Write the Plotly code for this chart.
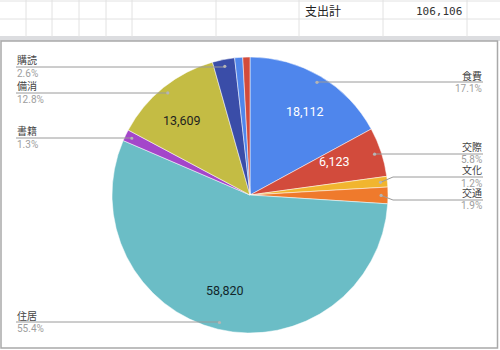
import math
import plotly.graph_objects as go

# ---- data ----
categories = ["食費", "交際", "文化", "交通", "住居", "書籍", "備消", "購読", "その他A", "その他B"]
values = [18112, 6123, 1316, 2058, 58820, 1422, 13609, 2760, 1000, 886]
colors = ["#4F86EC", "#D24B3C", "#F1B52F", "#EF7A2C", "#6BBDC6", "#A446CA",
          "#C4BC44", "#3A4DA8", "#4F86EC", "#D24B3C"]
value_label_cats = ["食費", "交際", "備消", "住居"]
value_label_colors = {"食費": "white", "交際": "white", "備消": "#1f1f1f", "住居": "#12262a"}
total_label = "支出計"
total_value = 106106

# label layout (side, y of leader line in px)
label_layout = {
    "食費": ("right", 82), "交際": ("right", 154), "文化": ("right", 177), "交通": ("right", 200),
    "購読": ("left", 67), "備消": ("left", 93), "書籍": ("left", 138), "住居": ("left", 322),
}

W, H = 500, 350
CX, CY, R = 250, 195, 138
FONT = "Roboto, 'Noto Sans CJK JP', sans-serif"


def px(x):
    return x / W


def py(y):
    return 1 - y / H


shapes = []
annotations = []

# ---- spreadsheet grid at top ----
for y in [1, 19]:
    shapes.append(dict(type="line", xref="paper", yref="paper", x0=0, x1=1, y0=py(y), y1=py(y),
                       line=dict(color="#e2e2e2", width=1)))
for x in [26, 52, 79, 106, 132, 216, 299, 383, 467]:
    shapes.append(dict(type="line", xref="paper", yref="paper", x0=px(x), x1=px(x), y0=py(0), y1=py(37),
                       line=dict(color="#e2e2e2", width=1)))
shapes.append(dict(type="rect", xref="paper", yref="paper", x0=0, x1=1, y0=py(41), y1=py(36),
                   fillcolor="#dcdde0", line=dict(width=0), layer="below"))
# chart panel
shapes.append(dict(type="rect", xref="paper", yref="paper", x0=px(1), x1=px(497.5), y0=py(348), y1=py(41),
                   fillcolor="white", line=dict(color="#a9a9a9", width=1.5), layer="below"))

annotations.append(dict(text=total_label, x=px(303), y=py(12), xref="paper", yref="paper",
                        xanchor="left", yanchor="middle", showarrow=False,
                        font=dict(family=FONT, size=12, color="#222")))
annotations.append(dict(text=f"{total_value:,}", x=px(464), y=py(12), xref="paper", yref="paper",
                        xanchor="right", yanchor="middle", showarrow=False,
                        font=dict(family="'DejaVu Sans Mono', monospace", size=11, color="#333")))

# ---- pie ----
tot = sum(values)
pie = go.Pie(labels=categories, values=values, sort=False, direction="clockwise", rotation=0,
             marker=dict(colors=colors, line=dict(color="white", width=0.5)),
             textinfo="none", showlegend=False, hoverinfo="label+value+percent",
             domain=dict(x=[px(CX - R), px(CX + R)], y=[py(CY + R), py(CY - R)]))

cum = 0
for cat, v in zip(categories, values):
    mid = (cum + v / 2) / tot
    cum += v
    th = 2 * math.pi * mid
    if cat in value_label_cats:
        r = 0.78 * R
        annotations.append(dict(text=f"{v:,}", x=px(CX + r * math.sin(th)), y=py(CY - r * math.cos(th)),
                                xref="paper", yref="paper", showarrow=False,
                                font=dict(family=FONT, size=12.5, color=value_label_colors[cat])))
    if cat in label_layout:
        side, ly = label_layout[cat]
        r = 0.95 * R
        dx, dy = CX + r * math.sin(th), CY - r * math.cos(th)
        pct = f"{100 * v / tot:.1f}%"
        if side == "right":
            kx, ex = max(dx + 10, 393) if abs(dy - ly) > 2 else dx, 483
            anchor = "right"
        else:
            kx, ex = (dx - 10) if abs(dy - ly) > 2 else dx, 16
            anchor = "left"
        path = f"M {px(dx)},{py(dy)} L {px(kx)},{py(ly)} L {px(ex)},{py(ly)}"
        shapes.append(dict(type="path", xref="paper", yref="paper", path=path,
                           line=dict(color="#9a9a9a", width=1)))
        shapes.append(dict(type="circle", xref="paper", yref="paper",
                           x0=px(dx - 1.6), x1=px(dx + 1.6), y0=py(dy + 1.6), y1=py(dy - 1.6),
                           fillcolor="#b5b5b5", line=dict(width=0)))
        annotations.append(dict(text=cat, x=px(ex), y=py(ly - 6.5), xref="paper", yref="paper",
                                xanchor=anchor, yanchor="middle", showarrow=False, borderpad=0,
                                font=dict(family=FONT, size=10, color="#444")))
        annotations.append(dict(text=pct, x=px(ex), y=py(ly + 6), xref="paper", yref="paper",
                                xanchor=anchor, yanchor="middle", showarrow=False, borderpad=0,
                                font=dict(family=FONT, size=10, color="#9e9e9e")))

fig = go.Figure(pie)
fig.update_layout(width=W, height=H, margin=dict(l=0, r=0, t=0, b=0),
                  paper_bgcolor="white", plot_bgcolor="white",
                  shapes=shapes, annotations=annotations)
fig.write_html("out.html")
